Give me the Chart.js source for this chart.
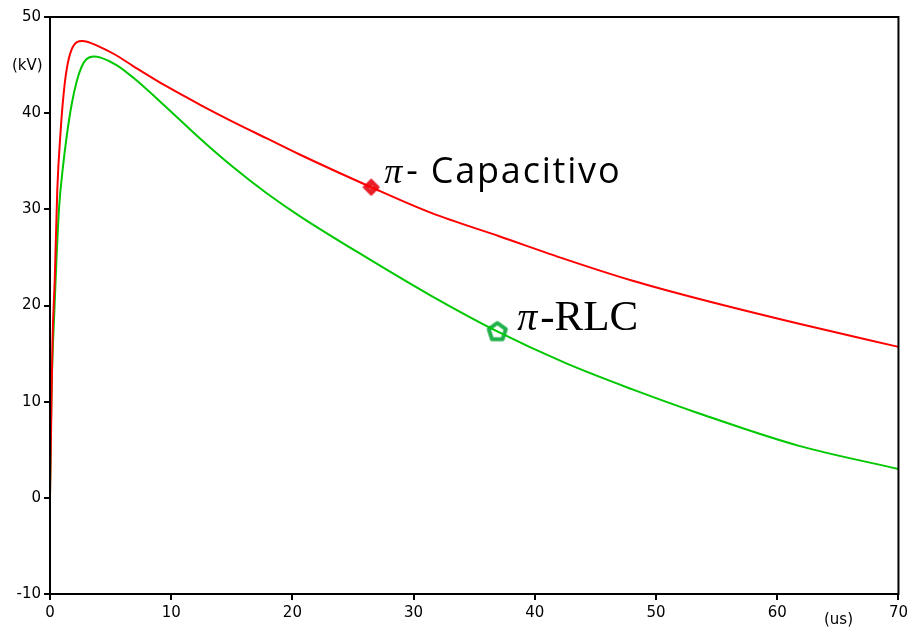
<!DOCTYPE html>
<html>
<head>
<meta charset="utf-8">
<script src="https://cdn.jsdelivr.net/npm/chart.js@4"></script>
<style>
  html, body { margin: 0; padding: 0; background: #fff; }
  #wrap { width: 912px; height: 630px; }
</style>
</head>
<body>
<div id="wrap"><canvas id="chart" width="912" height="630"></canvas></div>
<script>
// time in us, voltage in kV
const RED_T = [0, 0.1, 0.2, 0.4, 0.6, 0.88, 1.1, 1.37, 1.78, 2.66, 4.1, 5.35, 6.86, 9.6, 12.35, 15.1, 17.85, 20.6, 26.5, 31.5, 37.06, 42.55, 48, 53.5, 61.8, 70];
const RED_V = [0, 8, 16, 23, 32, 38.2, 41.7, 44.5, 46.6, 47.5, 46.9, 46.1, 44.9, 42.8, 40.9, 39.1, 37.4, 35.7, 32.3, 29.6, 27.2, 24.8, 22.6, 20.7, 18.1, 15.7];

const GREEN_T = [0, 0.11, 0.38, 0.74, 1.05, 1.4, 1.8, 2.2, 2.6, 3.0, 3.6, 4.12, 5.49, 6.86, 9.61, 12.35, 15.1, 17.85, 20.6, 26.1, 31.6, 36.9, 42.55, 48, 53.5, 61.8, 70];
const GREEN_V = [0, 10, 20, 30, 34.2, 37.8, 41.0, 43.3, 44.8, 45.6, 45.9, 45.8, 45.0, 43.7, 40.6, 37.4, 34.4, 31.7, 29.3, 25.0, 20.9, 17.3, 14.0, 11.3, 8.8, 5.4, 3.0];

const MARK_RED = [26.5, 32.3];
const MARK_GREEN = [36.9, 17.3];

const X_TICKS = [0, 10, 20, 30, 40, 50, 60, 70];
const Y_TICKS = [-10, 0, 10, 20, 30, 40, 50];

const toPoints = (ts, vs) => ts.map((t, i) => ({ x: t, y: vs[i] }));

// pentagon marker
const pent = document.createElement('canvas');
pent.width = 26; pent.height = 26;
(function () {
    const c = pent.getContext('2d');
    c.strokeStyle = '#1fb14a';
    c.lineWidth = 4;
    c.lineJoin = 'round';
    c.beginPath();
    for (let i = 0; i < 5; i++) {
        const a = -Math.PI / 2 + i * 2 * Math.PI / 5;
        const px = 13 + 9 * Math.cos(a), py = 13.5 + 9 * Math.sin(a);
        if (i === 0) c.moveTo(px, py); else c.lineTo(px, py);
    }
    c.closePath();
    c.stroke();
})();

// diamond marker
const diam = document.createElement('canvas');
diam.width = 18; diam.height = 18;
(function () {
    const c = diam.getContext('2d');
    c.fillStyle = '#e8202a';
    c.strokeStyle = '#e8202a';
    c.lineWidth = 2;
    c.lineJoin = 'round';
    c.beginPath();
    c.moveTo(9, 1.5); c.lineTo(16.5, 9); c.lineTo(9, 16.5); c.lineTo(1.5, 9);
    c.closePath();
    c.fill(); c.stroke();
    c.strokeStyle = '#ffffff';
    c.lineWidth = 1;
    c.beginPath();
    c.moveTo(7.5, 8); c.lineTo(10.5, 10); c.moveTo(10.5, 8); c.lineTo(7.5, 10);
    c.stroke();
})();

const frameAndText = {
    id: 'frameAndText',
    afterDraw(chart) {
        const ctx = chart.ctx;
        const a = chart.chartArea;
        const xs = chart.scales.x, ys = chart.scales.y;
        ctx.save();
        ctx.strokeStyle = '#000';
        ctx.lineWidth = 2;
        ctx.strokeRect(a.left, a.top, a.right - a.left, a.bottom - a.top);

        ctx.fillStyle = '#000';
        ctx.font = '15px "DejaVu Sans"';
        ctx.textBaseline = 'middle';
        ctx.textAlign = 'left';
        ctx.fillText('(kV)', 12, 66);
        ctx.fillText('(us)', 824, 620);

        // curve labels
        const rx = xs.getPixelForValue(MARK_RED[0]);
        const ry = ys.getPixelForValue(MARK_RED[1]);
        ctx.textBaseline = 'alphabetic';
        ctx.font = 'italic 36px "Liberation Serif"';
        ctx.fillText('π', rx + 13, ry - 4);
        ctx.font = '36px "Open Sans"';
        ctx.letterSpacing = '1.8px';
        ctx.fillText('- Capacitivo', rx + 35, ry - 4);
        ctx.letterSpacing = '0px';

        const gx = xs.getPixelForValue(MARK_GREEN[0]);
        const gy = ys.getPixelForValue(MARK_GREEN[1]);
        ctx.font = 'italic 40px "Liberation Serif"';
        ctx.fillText('π', gx + 20, gy - 1);
        ctx.font = '43px "Liberation Serif"';
        ctx.fillText('-RLC', gx + 43, gy - 1);
        ctx.restore();
    }
};

const chartConfig = {
    type: 'scatter',
    data: {
        datasets: [
            {
                label: 'pi-Capacitivo',
                data: toPoints(RED_T, RED_V),
                showLine: true,
                borderColor: '#ff0000',
                borderWidth: 2,
                pointRadius: 0,
                cubicInterpolationMode: 'monotone'
            },
            {
                label: 'pi-RLC',
                data: toPoints(GREEN_T, GREEN_V),
                showLine: true,
                borderColor: '#00c800',
                borderWidth: 2,
                pointRadius: 0,
                cubicInterpolationMode: 'monotone'
            },
            {
                label: 'mark red',
                data: [{ x: MARK_RED[0], y: MARK_RED[1] }],
                pointStyle: diam,
                pointRadius: 9
            },
            {
                label: 'mark green',
                data: [{ x: MARK_GREEN[0], y: MARK_GREEN[1] }],
                pointStyle: pent,
                pointRadius: 12
            }
        ]
    },
    options: {
        responsive: false,
        animation: false,
        layout: { padding: { top: 17, right: 12, left: 0, bottom: 0 } },
        plugins: {
            legend: { display: false },
            tooltip: { enabled: false }
        },
        scales: {
            x: {
                type: 'linear',
                min: 0,
                max: 70,
                afterBuildTicks: (s) => { s.ticks = X_TICKS.map(v => ({ value: v })); },
                afterFit: (s) => { s.height = 36; },
                border: { display: true, color: '#000', width: 2 },
                grid: { drawOnChartArea: false, drawTicks: true, tickLength: 6, color: '#000', lineWidth: 2 },
                ticks: { color: '#000', font: { family: 'DejaVu Sans', size: 15 }, padding: 4, maxRotation: 0 }
            },
            y: {
                type: 'linear',
                min: -10,
                max: 50,
                afterBuildTicks: (s) => { s.ticks = Y_TICKS.map(v => ({ value: v })); },
                afterFit: (s) => { s.width = 50; },
                border: { display: true, color: '#000', width: 2 },
                grid: { drawOnChartArea: false, drawTicks: true, tickLength: 6, color: '#000', lineWidth: 2 },
                ticks: { color: '#000', font: { family: 'DejaVu Sans', size: 15 }, padding: 3 }
            }
        }
    },
    plugins: [frameAndText]
};

const voltageChart = new Chart(document.getElementById('chart'), chartConfig);
</script>
</body>
</html>
